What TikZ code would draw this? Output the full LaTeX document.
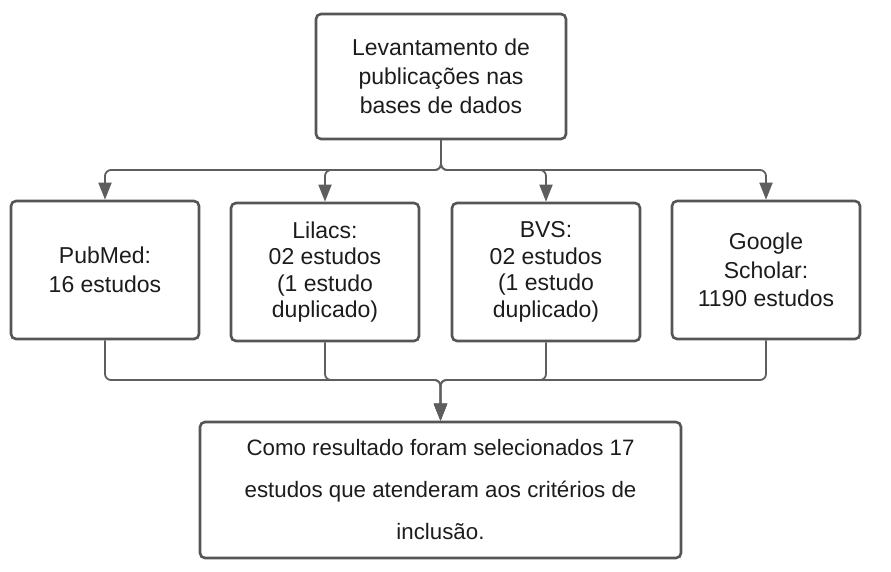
\documentclass[tikz,border=0pt]{standalone}
\usepackage{fontspec}
\setmainfont{Liberation Sans}
\usetikzlibrary{arrows.meta}
\definecolor{boxline}{HTML}{555555}
\definecolor{linkline}{HTML}{5E5E5E}
\definecolor{txt}{HTML}{1C1C1C}
\begin{document}
\begin{tikzpicture}[x=1pt, y=-1pt,
  box/.style={draw=boxline, line width=2.6pt, rounded corners=5pt, align=center, text=txt, inner sep=0pt, font=\fontsize{23}{29}\selectfont},
  link/.style={draw=linkline, line width=1.8pt, rounded corners=6pt, -{Triangle[length=17pt,width=13pt]}}]
\useasboundingbox (0,0) rectangle (891,571);
\node[box, minimum width=250pt, minimum height=125pt] (fonte) at (441,76.5) {Levantamento de\\publicações nas\\bases de dados};
\node[box, minimum width=188pt, minimum height=138pt] (pubmed) at (105,270) {PubMed:\\16 estudos};
\node[box, minimum width=188pt, minimum height=138pt, font=\fontsize{23}{26.5}\selectfont] (lilacs) at (325,272) {Lilacs:\\02 estudos\\(1 estudo\\duplicado)};
\node[box, minimum width=188pt, minimum height=138pt, font=\fontsize{23}{26.5}\selectfont] (bvs) at (546,272) {BVS:\\02 estudos\\(1 estudo\\duplicado)};
\node[box, minimum width=188pt, minimum height=138pt, font=\fontsize{23}{28.5}\selectfont] (scholar) at (766,270) {Google\\Scholar:\\1190 estudos};
\node[box, minimum width=481pt, minimum height=136pt, font=\fontsize{22.3}{42}\selectfont] (result) at (440.5,490) {Como resultado foram selecionados 17\\estudos que atenderam aos critérios de\\inclusão.};
\foreach \base in {pubmed,lilacs,bvs,scholar} {
  \draw[link] (fonte.south) -- (441,170) -| (\base.north);
  \draw[link] (\base.south) -- (\base.south |- 0,380) -| (result.north);
}
\end{tikzpicture}
\end{document}
